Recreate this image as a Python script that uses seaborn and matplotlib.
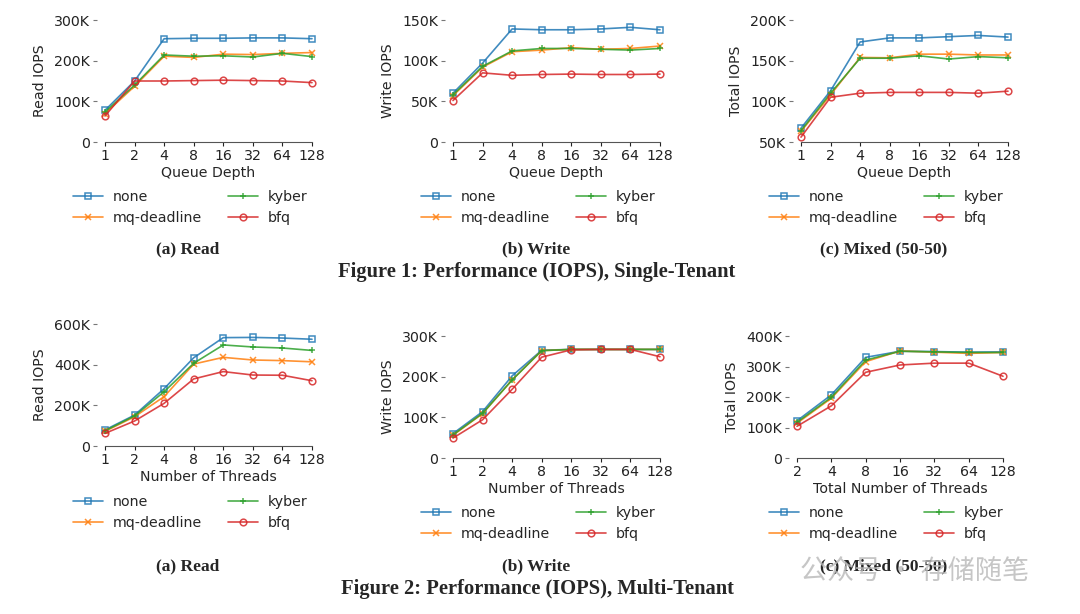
import numpy as np
import pandas as pd
import matplotlib
matplotlib.use("Agg")
import matplotlib.pyplot as plt
import seaborn as sns
from matplotlib.ticker import FuncFormatter, NullLocator

schedulers = ["none", "mq-deadline", "kyber", "bfq"]
sched_markers = {"none": "s", "mq-deadline": "x", "kyber": "+", "bfq": "o"}
sched_colors = {"none": "#1f77b4", "mq-deadline": "#ff7f0e", "kyber": "#2ca02c", "bfq": "#d62728"}

queue_depth = [1, 2, 4, 8, 16, 32, 64, 128]
num_threads = [1, 2, 4, 8, 16, 32, 64, 128]
total_threads = [2, 4, 8, 16, 32, 64, 128]

# Figure 1: single tenant (K IOPS)
st_read = {
    "none":        [78, 150, 254, 255, 255, 256, 256, 254],
    "mq-deadline": [70, 137, 211, 208, 216, 215, 218, 220],
    "kyber":       [74, 140, 214, 211, 212, 209, 218, 210],
    "bfq":         [64, 150, 150, 151, 152, 151, 150, 146],
}
st_write = {
    "none":        [60, 97, 139, 138, 138, 139, 141, 138],
    "mq-deadline": [57, 92, 111, 113, 116, 114, 115, 118],
    "kyber":       [58, 93, 112, 115, 115, 114, 113, 115],
    "bfq":         [51, 85, 82, 83, 83.5, 83, 83, 83.5],
}
st_mixed = {
    "none":        [67, 113, 173, 178, 178, 179.5, 181, 179],
    "mq-deadline": [63, 108, 154, 153.5, 158, 158, 157, 157],
    "kyber":       [64, 110, 153, 153, 156, 152, 155, 153.5],
    "bfq":         [56, 105, 110, 111, 111, 111, 110, 112.5],
}

# Figure 2: multi tenant (K IOPS)
mt_read = {
    "none":        [79, 152, 282, 434, 533, 534, 531, 525],
    "mq-deadline": [72, 144, 243, 403, 436, 423, 420, 414],
    "kyber":       [75, 148, 267, 407, 497, 487, 482, 470],
    "bfq":         [62, 123, 210, 330, 366, 349, 348, 321],
}
mt_write = {
    "none":        [60, 114, 202, 265, 267, 267, 267, 267],
    "mq-deadline": [56, 109, 192, 264, 267, 267, 267, 267],
    "kyber":       [57, 110, 192, 264, 267, 267, 267, 267],
    "bfq":         [49, 94, 169, 248, 266, 267, 267, 249],
}
mt_mixed = {
    "none":        [122, 207, 330, 350, 349, 347, 348],
    "mq-deadline": [114, 196, 316, 351, 347, 343, 346],
    "kyber":       [117, 199, 321, 350, 348, 346, 346],
    "bfq":         [104, 171, 281, 305, 311, 311, 268],
}

W, H = 1080, 614
sns.set_style("ticks")
plt.rcParams["font.family"] = ["DejaVu Sans"]
plt.rcParams["font.size"] = 10.2

fig = plt.figure(figsize=(W / 100, H / 100), dpi=100)


def kfmt(v, pos):
    if v == 0:
        return "0"
    return "%dK" % round(v / 1000)


def panel(data, xs, xlabel, ylabel, x0px, x1px, ybot, ytop, ymin, ymax, ystep, legx, legy):
    pad = 8
    ax = fig.add_axes([(x0px - pad) / W, 1 - ybot / H, (x1px - x0px + 2 * pad) / W, (ybot - ytop) / H])
    for s in schedulers:
        df = pd.DataFrame({"x": xs, "iops": [v * 1000 for v in data[s]]})
        sns.lineplot(data=df, x="x", y="iops", color=sched_colors[s],
                     marker=sched_markers[s], markersize=4.8, linewidth=1.2,
                     alpha=0.85, ax=ax, clip_on=False, label=s)
    for line in ax.lines:
        c = line.get_color()
        line.set_markeredgecolor(c)
        line.set_markerfacecolor("none")
        line.set_markeredgewidth(1.1)
    ax.set_xscale("log", base=2)
    u = np.log2(xs[-1] / xs[0]) / (x1px - x0px)
    ax.set_xlim(xs[0] * 2 ** (-pad * u), xs[-1] * 2 ** (pad * u))
    ax.set_xticks(xs)
    ax.set_xticklabels([str(x) for x in xs])
    ax.xaxis.set_minor_locator(NullLocator())
    ax.set_ylim(ymin, ymax)
    ax.set_yticks(np.arange(ymin, ymax + 1, ystep))
    ax.yaxis.set_major_formatter(FuncFormatter(kfmt))
    sns.despine(ax=ax, left=True)
    ax.spines["bottom"].set_bounds(xs[0], xs[-1])
    ax.spines["bottom"].set_color("#555555")
    ax.tick_params(axis="both", length=3, width=0.8, pad=2, colors="#222222")
    ax.tick_params(axis="y", color="#777777")
    ax.set_xlabel(xlabel, labelpad=2)
    ax.set_ylabel(ylabel, labelpad=5)
    ax.legend(handles=ax.lines[:4], labels=schedulers, ncol=2, frameon=False,
              loc="center left", bbox_to_anchor=(legx / W, 1 - legy / H),
              bbox_transform=fig.transFigure, borderpad=0, borderaxespad=0,
              handlelength=2.1, handletextpad=0.7, columnspacing=1.85,
              labelspacing=0.45)
    return ax


panel(st_read, queue_depth, "Queue Depth", "Read IOPS", 105, 312, 142, 20, 0, 300000, 100000, 73, 207.5)
panel(st_write, queue_depth, "Queue Depth", "Write IOPS", 453, 660, 142, 20, 0, 150000, 50000, 421, 207.5)
panel(st_mixed, queue_depth, "Queue Depth", "Total IOPS", 801, 1008, 142, 20, 50000, 200000, 50000, 769, 207.5)
panel(mt_read, num_threads, "Number of Threads", "Read IOPS", 105, 312, 446, 324, 0, 600000, 200000, 73, 512.5)
panel(mt_write, num_threads, "Number of Threads", "Write IOPS", 453, 660, 458, 336, 0, 300000, 100000, 421, 523.5)
panel(mt_mixed, total_threads, "Total Number of Threads", "Total IOPS", 797, 1003, 458, 336, 0, 400000, 100000, 769, 523.5)

serif = ["Liberation Serif", "DejaVu Serif"]
subcaps = ["(a) Read", "(b) Write", "(c) Mixed (50-50)"]
subcap_x = [188, 536, 884]
for y, cap_y, cap in [(249, 272, "Figure 1: Performance (IOPS), Single-Tenant"),
                      (566, 589, "Figure 2: Performance (IOPS), Multi-Tenant")]:
    for sx, s in zip(subcap_x, subcaps):
        fig.text(sx / W, 1 - y / H, s, ha="center", va="center", family=serif,
                 weight="bold", fontsize=12.5)
    fig.text(537 / W, 1 - cap_y / H, cap, ha="center", va="center", family=serif,
             weight="bold", fontsize=14.8)

# watermark, as in the source image
fig.text(800 / W, 1 - 572 / H, "公众号 · 存储随笔", ha="left", va="center",
         family=["Noto Sans CJK SC", "DejaVu Sans"], fontsize=19.5, color="#b8b8b8", alpha=0.8)

fig.savefig("out.png", dpi=100)
